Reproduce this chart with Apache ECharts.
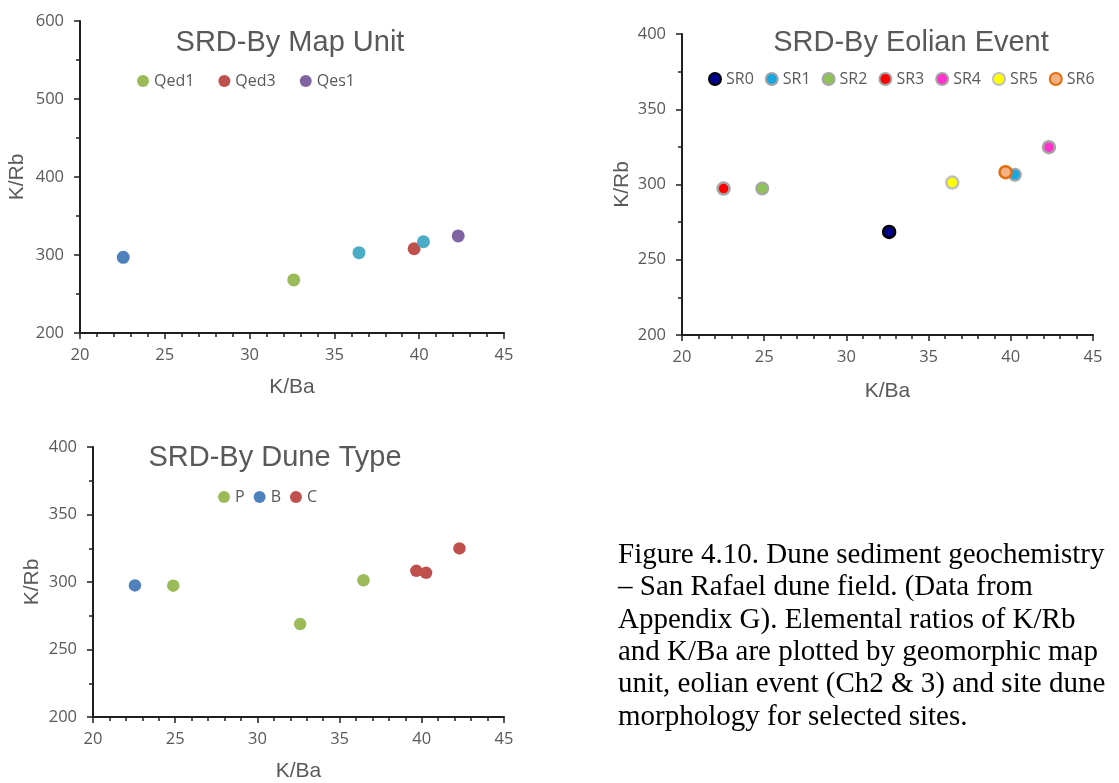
<!DOCTYPE html>
<html><head><meta charset="utf-8">
<script src="https://cdn.jsdelivr.net/npm/echarts@6/dist/echarts.min.js"></script>
<style>html,body{margin:0;padding:0;background:#fff}#c{width:1119px;height:783px}</style>
</head><body><div id="c"></div>
<script>
// ---- data (K/Ba, K/Rb) ----
// Chart A: SRD-By Map Unit
const mapQed1 = [[32.6, 268]];
const mapQed3 = [[39.7, 308]];
const mapQes1 = [[42.3, 324.5]];
const mapOtherBlue = [[22.55, 297]];
const mapOtherCyan = [[36.45, 303], [40.25, 317]];
const mapLegend = ['Qed1', 'Qed3', 'Qes1'];
// Chart B: SRD-By Eolian Event
const evSR0 = [[32.6, 268.5]];
const evSR1 = [[40.25, 306.5]];
const evSR2 = [[24.88, 297.3]];
const evSR3 = [[22.53, 297.3]];
const evSR4 = [[42.32, 324.8]];
const evSR5 = [[36.44, 301.3]];
const evSR6 = [[39.68, 308.2]];
const evLegend = ['SR0', 'SR1', 'SR2', 'SR3', 'SR4', 'SR5', 'SR6'];
// Chart C: SRD-By Dune Type
const duneP = [[24.88, 297.3], [32.6, 268.8], [36.45, 301.3]];
const duneB = [[22.55, 297.5]];
const duneC = [[39.67, 308.3], [40.26, 306.8], [42.29, 324.9]];
const duneLegend = ['P', 'B', 'C'];
// axes
const xRange = [20, 45, 5];
const yRangeA = [200, 600, 100];
const yRangeBC = [200, 400, 50];
const titles = ['SRD-By Map Unit', 'SRD-By Eolian Event', 'SRD-By Dune Type'];
const xName = 'K/Ba', yName = 'K/Rb';
const captionLines = [
  'Figure 4.10. Dune sediment geochemistry',
  '\u2013 San Rafael dune field. (Data from',
  'Appendix G). Elemental ratios of K/Rb',
  'and K/Ba are plotted by geomorphic map',
  'unit, eolian event (Ch2 & 3) and site dune',
  'morphology for selected sites.'
];

// ---- styling ----
const gray = '#595959', axisCol = '#1f1f1f';
const sans = 'Liberation Sans, Arial, sans-serif';
const labelFont = 'Open Sans, sans-serif';

function xAxis(gi, nameGap) {
  return {
    gridIndex: gi, type: 'value', min: xRange[0], max: xRange[1], interval: xRange[2],
    name: xName, nameLocation: 'middle', nameGap: nameGap,
    nameTextStyle: {fontFamily: sans, fontSize: 21, color: gray},
    axisLine: {show: true, lineStyle: {color: axisCol, width: 2}},
    axisTick: {show: true, length: 6, lineStyle: {color: axisCol, width: 1.5}},
    minorTick: {show: true, splitNumber: 5, length: 4, lineStyle: {color: axisCol, width: 1.5}},
    axisLabel: {fontFamily: labelFont, fontSize: 16.5, color: gray, margin: 14},
    splitLine: {show: false}
  };
}
function yAxis(gi, r, nameGap) {
  return {
    gridIndex: gi, type: 'value', min: r[0], max: r[1], interval: r[2],
    name: yName, nameLocation: 'middle', nameGap: nameGap, nameRotate: 90,
    nameTextStyle: {fontFamily: sans, fontSize: 21, color: gray},
    axisLine: {show: true, lineStyle: {color: axisCol, width: 2}},
    axisTick: {show: true, length: 6, lineStyle: {color: axisCol, width: 1.5}},
    minorTick: {show: true, splitNumber: 2, length: 4, lineStyle: {color: axisCol, width: 1.5}},
    axisLabel: {fontFamily: labelFont, fontSize: 16.5, color: gray, margin: 16},
    splitLine: {show: false}
  };
}
function sc(name, gi, data, color, size, border, bw) {
  return {
    type: 'scatter', name: name, xAxisIndex: gi, yAxisIndex: gi, data: data,
    symbol: 'circle', symbolSize: size,
    itemStyle: {color: color, borderColor: border || color, borderWidth: bw || 0, opacity: 1},
    emphasis: {disabled: true}
  };
}
function legend(data, left, top, gap) {
  return {
    data: data, left: left, top: top, orient: 'horizontal', padding: 0,
    itemWidth: 12, itemHeight: 12, itemGap: gap, icon: 'circle', selectedMode: false,
    textStyle: {fontFamily: labelFont, fontSize: 16, color: gray}
  };
}
function titleText(text, x, y) {
  return {type: 'text', x: x, y: y, silent: true,
    style: {text: text, fontFamily: sans, fontSize: 29, fill: gray, textAlign: 'center', textVerticalAlign: 'middle'}};
}

const lgGray = '#a6a6a6';
const option = {
  animation: false,
  backgroundColor: '#ffffff',
  grid: [
    {left: 80, top: 21, width: 424, height: 312},
    {left: 682, top: 34, width: 411, height: 301},
    {left: 93, top: 447, width: 411, height: 273}
  ],
  xAxis: [xAxis(0, 44), xAxis(1, 46), xAxis(2, 44)],
  yAxis: [yAxis(0, yRangeA, 52), yAxis(1, yRangeBC, 49), yAxis(2, yRangeBC, 50)],
  legend: [
    legend(mapLegend, 137, 73, 24),
    legend(evLegend, 708, 71, 11),
    legend(duneLegend, 218, 489, 9)
  ],
  series: [
    sc('Qed1', 0, mapQed1, '#9bbb59', 13),
    sc('Qed3', 0, mapQed3, '#c0504d', 13),
    sc('Qes1', 0, mapQes1, '#8064a2', 13),
    sc('unit-b', 0, mapOtherBlue, '#4f81bd', 13),
    sc('unit-c', 0, mapOtherCyan, '#4bacc6', 13),

    sc('SR0', 1, evSR0, '#00008b', 12, '#000000', 2.5),
    sc('SR1', 1, evSR1, '#1aa7e0', 12, lgGray, 2),
    sc('SR2', 1, evSR2, '#8fc15a', 12, lgGray, 2),
    sc('SR3', 1, evSR3, '#ff0000', 12, lgGray, 2.5),
    sc('SR4', 1, evSR4, '#ff33cc', 12, lgGray, 2.5),
    sc('SR5', 1, evSR5, '#ffff00', 12, '#bfbfbf', 2.5),
    sc('SR6', 1, evSR6, '#f4b183', 12, '#e46c0a', 2.5),

    sc('P', 2, duneP, '#9bbb59', 12.5),
    sc('B', 2, duneB, '#4f81bd', 12.5),
    sc('C', 2, duneC, '#c0504d', 12.5)
  ],
  graphic: [
    titleText(titles[0], 290, 43),
    titleText(titles[1], 911, 43),
    titleText(titles[2], 275, 458),
    {type: 'text', x: 618, y: 539, silent: true,
     style: {text: captionLines.join('\n'), fontFamily: 'Liberation Serif, Times New Roman, serif',
             fontSize: 29, lineHeight: 32.4, fill: '#000000', textAlign: 'left', textVerticalAlign: 'top'}}
  ]
};
const chart = echarts.init(document.getElementById('c'), null, {renderer: 'canvas'});
chart.setOption(option);
</script></body></html>
